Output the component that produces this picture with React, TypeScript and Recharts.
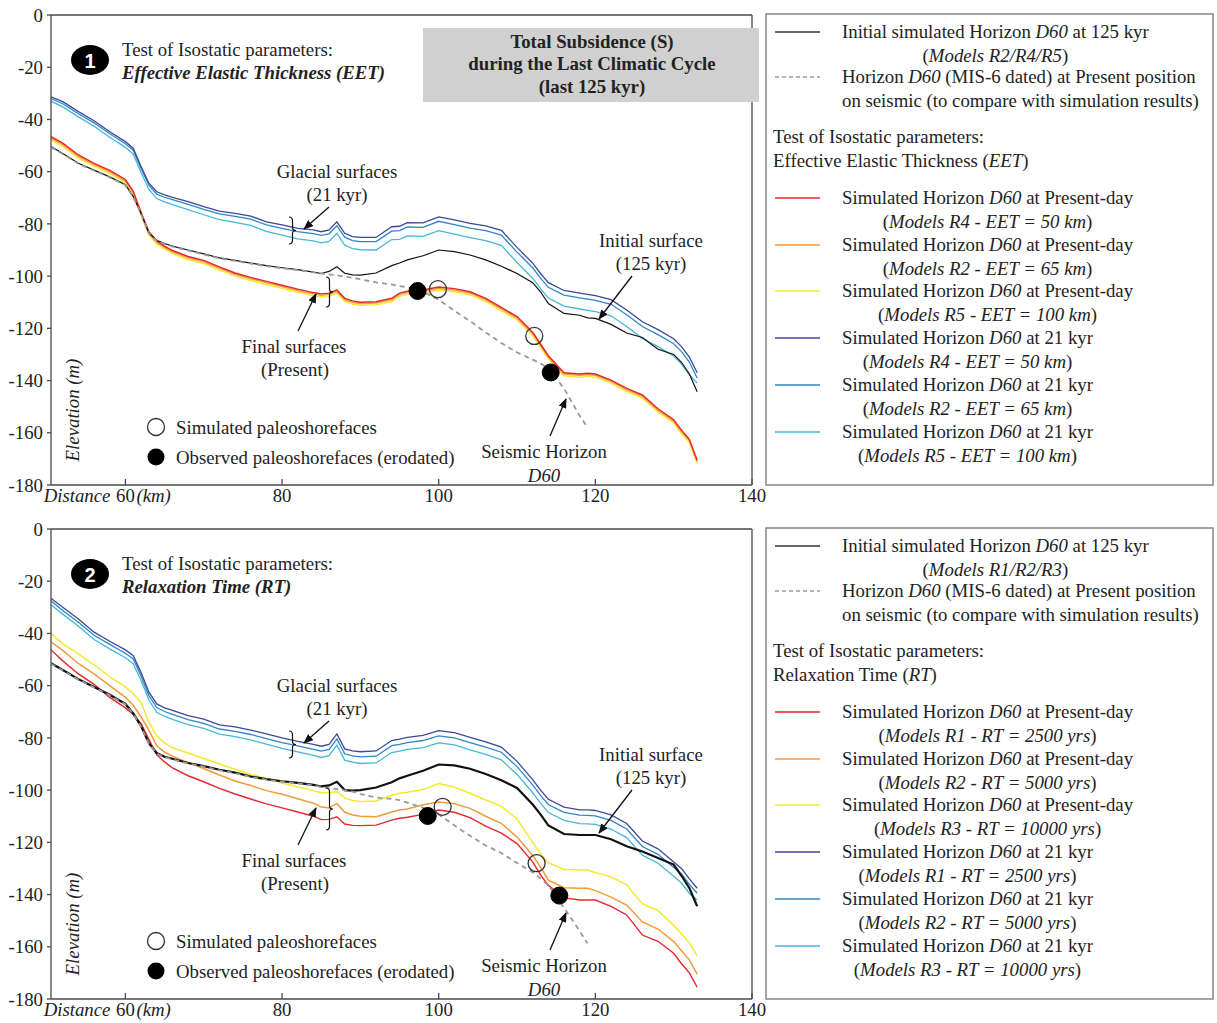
import React from "react";
import { LineChart, Line, XAxis, YAxis } from "recharts";

const SERIF = "'Liberation Serif', 'Times New Roman', Times, serif";
const SANS = "'Liberation Sans', Arial, sans-serif";
const FS = 18.8;

// distance along the profile (km), shared by every curve
const distance = [50.5, 52, 54, 56, 58, 60, 61, 62, 63, 64, 65, 66, 68, 70, 72, 74, 76, 78, 80, 82, 84, 85, 86, 87, 88, 89, 90, 92, 94, 95, 96, 98, 100, 102, 104, 106, 108, 110, 112, 113, 114, 116, 118, 119, 120, 122, 124, 126, 128, 130, 131, 132, 133];
const xTicks = [60, 80, 100, 120, 140];
const yTicks = [0, -20, -40, -60, -80, -100, -120, -140, -160, -180];
const innerYTicks = [-20, -40, -60, -80, -100, -120, -140, -160];

// ---- panel 1 : Effective Elastic Thickness ----
const eetInitial = [-50.4, -53, -56.8, -59.4, -62, -65, -69.5, -76, -83.5, -86.3, -87.5, -88.5, -90, -91.5, -93, -94, -95, -96, -96.8, -97.5, -98.5, -99, -98.2, -96.4, -98.9, -99.5, -99.6, -98.8, -96, -95, -93.8, -92.2, -90, -90.6, -91.9, -93.8, -96.2, -99, -102.5, -106, -110.5, -114.3, -115, -116, -116.2, -118.5, -121.8, -123.5, -128, -130, -133, -137.5, -144.3];
const eetSeismic = [-50.6, -53.2, -57, -59.6, -62.2, -65.2, -69.7, -76.2, -83.7, -86.5, -87.7, -88.7, -90.2, -91.7, -93.2, -94.2, -95.2, -96.2, -97, -97.7, -98.6, -99, -99.3, -99.7, -100.2, -100.6, -101.2, -102.4, -103.2, -103.8, -104.3, -106, -109, -113.3, -117.2, -121.6, -125.6, -129.2, -132, -133.4, -135.5, -143, -153.5, -158, null, null, null, null, null, null, null, null, null];
const eetPresent50 = [-46.6, -49.1, -53.6, -56.8, -59.5, -63, -67.5, -75.5, -83, -86.5, -88.5, -90.2, -92.5, -94, -96.5, -98.8, -100.5, -102, -103.5, -105, -106.3, -106.8, -106.5, -105.3, -108.5, -109.5, -110, -109.8, -108.5, -106.5, -105.8, -105.3, -104.2, -104.8, -106, -108.5, -112, -115.5, -121.5, -126, -130.5, -137, -137.5, -137.2, -137.5, -139.8, -143, -145.5, -150.8, -155, -159, -162.5, -170.5];
const eetPresent65 = [-47.1, -49.6, -54.1, -57.3, -60, -63.5, -68, -76, -83.5, -87, -89, -90.7, -93, -94.5, -97, -99.3, -101, -102.5, -104, -105.5, -106.8, -107.3, -107, -105.8, -109, -110, -110.5, -110.3, -109, -107, -106.3, -105.8, -104.7, -105.3, -106.5, -109, -112.5, -116, -122, -126.5, -131, -137.5, -138, -137.7, -138, -140.3, -143.5, -146, -151.3, -155.5, -159.5, -163, -171];
const eetPresent100 = [-47.8, -50.3, -54.8, -58, -60.7, -64.2, -68.7, -76.7, -84.2, -87.7, -89.7, -91.4, -93.7, -95.2, -97.7, -100, -101.7, -103.2, -104.7, -106.2, -107.5, -108, -107.7, -106.5, -109.7, -110.7, -111.2, -111, -109.7, -107.7, -107, -106.5, -105.4, -106, -107.2, -109.7, -113.2, -116.7, -122.7, -127.2, -131.7, -138.2, -138.7, -138.4, -138.7, -141, -144.2, -146.7, -152, -156.2, -160.2, -163.7, -171.7];
const eetGlacial50 = [-31.3, -33.2, -37, -40.5, -44.7, -48.5, -51, -58, -64.4, -67.7, -68.9, -69.8, -71.5, -73.4, -75.1, -76, -77, -79.2, -80.4, -81.7, -82.3, -83, -82.3, -79.2, -83.6, -84.9, -85.2, -85.2, -81.1, -80.9, -79.5, -79.6, -77.3, -78.5, -79.8, -80.8, -82.5, -89, -95, -99, -102.5, -105.5, -106.5, -107, -107.5, -109, -113, -117.5, -120.5, -124, -127, -131, -137];
const eetGlacial65 = [-32, -34, -37.8, -41.3, -45.5, -49.3, -51.8, -58.8, -65.2, -68.6, -69.8, -70.7, -72.5, -74.4, -76.2, -77.1, -78.2, -80.4, -81.7, -83, -83.7, -84.4, -83.8, -80.7, -85.1, -86.4, -86.8, -86.8, -82.8, -82.6, -81.2, -81.3, -79, -80.3, -81.6, -82.6, -84.3, -90.8, -96.8, -100.8, -104.3, -107.3, -108.3, -108.8, -109.3, -110.8, -114.8, -119.3, -122.4, -125.9, -128.9, -132.9, -139];
const eetGlacial100 = [-33, -35.2, -39, -42.6, -46.8, -50.7, -53.3, -60.3, -66.8, -70.3, -71.6, -72.6, -74.5, -76.5, -78.4, -79.4, -80.6, -82.9, -84.3, -85.7, -86.5, -87.3, -86.7, -83.6, -88.1, -89.5, -89.9, -90, -86, -85.9, -84.6, -84.8, -82.6, -83.9, -85.3, -86.4, -88.2, -94.8, -100.8, -104.8, -108.4, -111.5, -112.6, -113.1, -113.6, -115.2, -119.3, -123.9, -127, -130.6, -133.7, -137.8, -141];
const eetSimX = [99.9, 112.2];
const eetSimY = [-105, -122.9];
const eetObsX = [97.3, 114.3];
const eetObsY = [-105.7, -136.9];

// ---- panel 2 : Relaxation Time ----
const rtInitial = [-51.4, -54, -57.5, -60.5, -63.5, -67, -70.6, -75.5, -82, -85.8, -87.2, -88, -89.6, -90.8, -92.2, -93.3, -94.8, -95.8, -96.6, -97.2, -98, -98.6, -98.2, -96.8, -100, -100.2, -100, -99, -97, -95.5, -94.5, -92.6, -90.2, -90.5, -91.8, -93.8, -96.2, -99.2, -105.5, -109.3, -113.5, -116.8, -117.2, -117.2, -117.2, -118.8, -121.5, -123.5, -126, -128.5, -132.8, -137.5, -144.5];
const rtSeismic = [-51.6, -54.2, -57.7, -60.7, -63.7, -67.2, -70.8, -75.7, -82.2, -86, -87.4, -88.2, -89.8, -91, -92.4, -93.5, -95, -96, -96.8, -97.4, -98.2, -98.8, -99.2, -99.6, -100.1, -100.6, -101.5, -102.8, -103.4, -103.8, -104.8, -106.8, -109.3, -113.5, -117.5, -121.2, -124.1, -127.9, -131.5, -133.8, -136.5, -145, -154, -158.7, null, null, null, null, null, null, null, null, null];
const rtPresent2500 = [-46.3, -50.5, -55.5, -59.5, -64.5, -68.5, -71, -74.5, -80.5, -86.5, -89.2, -91.5, -94.5, -96.8, -99.3, -101.5, -103.4, -105.3, -106.8, -108.4, -110, -111.3, -111.2, -110.2, -113, -113.5, -113.6, -113.4, -111.5, -110.8, -110.4, -109.3, -107.6, -108.5, -110.5, -113.8, -116.5, -120.5, -127.5, -132.5, -136.5, -141.3, -142.1, -142.1, -142.1, -144.5, -147.8, -155.5, -157.9, -162.5, -166.5, -170, -175.5];
const rtPresent5000 = [-43.2, -46.5, -51.5, -55.5, -60, -64.5, -67.5, -72, -77, -83, -85.5, -87, -89.5, -91.7, -94.2, -96.5, -98.2, -100.2, -101.6, -103.3, -105, -106.5, -106.8, -105.1, -108.5, -109.5, -110, -110.2, -108.4, -107.6, -107.2, -105.6, -104.6, -105.2, -107, -110, -112.7, -118, -125, -129.5, -134.5, -137.4, -137.6, -137.6, -138.5, -141, -144, -150.5, -153.2, -158, -161.5, -165, -170.5];
const rtPresent10000 = [-40, -44, -47.8, -52, -56.6, -60.5, -63, -66.5, -74, -79.2, -82, -83.8, -85.8, -87.9, -90, -92, -94, -95.5, -97.3, -98.8, -100.2, -101, -101, -100.6, -103, -104, -104.4, -104.2, -102, -101.2, -100.8, -99.8, -97.5, -98.8, -101.2, -103.8, -106.2, -111, -120, -124.4, -127.8, -130.4, -130.6, -130.6, -131.6, -133.2, -136.3, -143.5, -146.2, -151.8, -155, -158.5, -163.5];
const rtGlacial2500 = [-26.5, -30, -34.5, -39.5, -43, -46.3, -48.5, -55, -62.5, -67, -68.5, -69.5, -71.5, -72.8, -75, -75.8, -77, -78.5, -80, -81.3, -82.5, -83.2, -82.5, -78.5, -84.2, -85, -85.3, -85, -81, -80.5, -79.8, -79, -77.2, -78, -79.8, -81.5, -83.5, -89, -96, -100, -103.5, -106.5, -107.6, -107.6, -107.8, -109.5, -112.8, -119.5, -122.5, -127.5, -130, -134, -137.6];
const rtGlacial5000 = [-27.5, -31.2, -35.7, -40.7, -44.2, -47.6, -49.8, -56.3, -63.8, -68.4, -69.9, -71, -73, -74.4, -76.6, -77.5, -78.7, -80.3, -81.8, -83.1, -84.4, -85.1, -84.4, -80.4, -86.1, -86.9, -87.3, -87, -83, -82.5, -81.8, -81, -79.2, -80, -81.8, -83.5, -85.5, -91, -98, -102, -105.5, -108.5, -109.6, -109.7, -109.9, -111.6, -114.9, -121.6, -124.6, -129.6, -132.1, -136.1, -139.5];
const rtGlacial10000 = [-29, -32.6, -37.2, -42.3, -45.9, -49.3, -51.6, -58, -65.5, -70.2, -71.7, -72.9, -74.9, -76.4, -78.6, -79.5, -80.8, -82.4, -84, -85.4, -86.7, -87.5, -86.8, -82.8, -88.5, -89.3, -89.8, -89.6, -85.6, -85.1, -84.4, -83.7, -81.9, -82.7, -84.6, -86.3, -88.4, -94, -101, -105, -108.6, -111.6, -112.8, -112.9, -113.1, -114.9, -118.2, -124.9, -128, -133, -135.6, -139.6, -142.1];
const rtSimX = [100.5, 112.5];
const rtSimY = [-106.4, -128];
const rtObsX = [98.6, 115.4];
const rtObsY = [-109.9, -140.4];

// legend texts
const eetModels = ["Models R4 - EET = 50 km", "Models R2 - EET = 65 km", "Models R5 - EET = 100 km"];
const rtModels = ["Models R1 - RT = 2500 yrs", "Models R2 - RT = 5000 yrs", "Models R3 - RT = 10000 yrs"];

const C = {
  red: "#e8262c",
  orange: "#f39b38",
  yellow: "#f5e92f",
  navy: "#3d4898",
  blue: "#2f86c6",
  cyan: "#45b8da",
  axis: "#4a4a4a",
  text: "#222",
};

type Pt = { x: number; y: number };

function toRows(cols: Record<string, (number | null)[]>) {
  return distance.map((x, i) => {
    const row: Record<string, number | null> = { x };
    Object.keys(cols).forEach((k) => {
      row[k] = cols[k][i];
    });
    return row;
  });
}

function toPts(xs: number[], ys: number[]): Pt[] {
  return xs.map((x, i) => ({ x, y: ys[i] }));
}

function BottomTick(props: any) {
  const { x, y, payload } = props;
  const base = { fontFamily: SERIF, fontSize: FS, fill: C.text };
  return (
    <g>
      <text x={x} y={y} dy={14} textAnchor="middle" {...base}>
        {payload.value}
      </text>
      {payload.value === 60 && (
        <>
          <text x={x - 15} y={y} dy={14} textAnchor="end" fontStyle="italic" {...base}>
            Distance
          </text>
          <text x={x + 11} y={y} dy={14} textAnchor="start" fontStyle="italic" {...base}>
            (km)
          </text>
        </>
      )}
    </g>
  );
}

function Label({ x, y, children, align = "middle", style }: any) {
  return (
    <div
      style={{
        position: "absolute",
        left: x,
        top: y,
        transform: align === "middle" ? "translate(-50%, -50%)" : "translateY(-50%)",
        whiteSpace: "nowrap",
        fontFamily: SERIF,
        fontSize: FS,
        lineHeight: 1,
        color: C.text,
        ...style,
      }}
    >
      {children}
    </div>
  );
}

function Entry({ y, children, align = "center", left = 842 }: any) {
  return (
    <div
      style={{
        position: "absolute",
        left,
        top: y - 11.65,
        textAlign: align,
        whiteSpace: "nowrap",
        fontFamily: SERIF,
        fontSize: FS,
        lineHeight: "23.3px",
        color: C.text,
      }}
    >
      {children}
    </div>
  );
}

function brace(x: number, y1: number, y2: number) {
  const m = (y1 + y2) / 2;
  const w = 3.5;
  return `M${x},${y1} Q${x + w},${y1} ${x + w},${y1 + 4} L${x + w},${m - 3} Q${x + w},${m} ${x + 2 * w},${m} Q${x + w},${m} ${x + w},${m + 3} L${x + w},${y2 - 4} Q${x + w},${y2} ${x},${y2}`;
}

type PanelProps = {
  top: number;
  id: string;
  badge: string;
  subtitle: string;
  paramName: string;
  paramAbbr: string;
  initialModels: string;
  models: string[];
  rows: Record<string, number | null>[];
  sim: Pt[];
  obs: Pt[];
  blackWidth: number;
  showBox: boolean;
  finalBrace: [number, number];
};

function Panel(p: PanelProps) {
  const legendY = [198, 245, 291, 338, 385, 432];
  const legendColors = [C.red, C.orange, C.yellow, C.navy, C.blue, C.cyan];
  const arrow = `url(#ah-${p.id})`;
  return (
    <div style={{ position: "absolute", left: 0, top: p.top, width: 1217, height: 514 }}>
      <div style={{ position: "absolute", left: 0, top: 0 }}>
        <LineChart width={770} height={514} data={p.rows} margin={{ top: 0, right: 0, bottom: 0, left: 11 }}>
          <XAxis
            dataKey="x"
            type="number"
            domain={[50.5, 140]}
            ticks={xTicks}
            allowDataOverflow
            interval={0}
            height={29}
            tickSize={-6}
            tickMargin={9}
            tick={BottomTick}
            stroke={C.axis}
            strokeWidth={1.3}
          />
          <XAxis
            xAxisId="top"
            orientation="top"
            type="number"
            domain={[50.5, 140]}
            ticks={[60, 80, 100, 120]}
            allowDataOverflow
            interval={0}
            height={15}
            tick={false}
            tickSize={-5}
            stroke={C.axis}
            strokeWidth={1.3}
          />
          <YAxis
            type="number"
            domain={[-180, 0]}
            ticks={yTicks}
            allowDataOverflow
            interval={0}
            width={40}
            tickSize={4}
            tickMargin={4}
            tick={{ fontSize: FS, fill: C.text, fontFamily: SERIF }}
            stroke={C.axis}
            strokeWidth={1.3}
          />
          <YAxis
            yAxisId="right"
            orientation="right"
            type="number"
            domain={[-180, 0]}
            ticks={innerYTicks}
            allowDataOverflow
            interval={0}
            width={18}
            tick={false}
            tickSize={-5}
            stroke={C.axis}
            strokeWidth={1.3}
          />
          <Line dataKey="g3" stroke={C.cyan} strokeWidth={1.3} dot={false} isAnimationActive={false} />
          <Line dataKey="g2" stroke={C.blue} strokeWidth={1.3} dot={false} isAnimationActive={false} />
          <Line dataKey="g1" stroke={C.navy} strokeWidth={1.3} dot={false} isAnimationActive={false} />
          <Line dataKey="p3" stroke={C.yellow} strokeWidth={1.5} dot={false} isAnimationActive={false} />
          <Line dataKey="p2" stroke={C.orange} strokeWidth={1.5} dot={false} isAnimationActive={false} />
          <Line dataKey="p1" stroke={C.red} strokeWidth={1.4} dot={false} isAnimationActive={false} />
          <Line dataKey="init" stroke="#111" strokeWidth={p.blackWidth} dot={false} isAnimationActive={false} />
          <Line
            dataKey="seis"
            stroke="#9a9a9a"
            strokeWidth={1.8}
            strokeDasharray="5 4"
            dot={false}
            isAnimationActive={false}
          />
          <Line
            data={p.obs}
            dataKey="y"
            stroke="none"
            dot={{ r: 8.5, fill: "#000", stroke: "#000", strokeWidth: 1 }}
            isAnimationActive={false}
          />
          <Line
            data={p.sim}
            dataKey="y"
            stroke="none"
            dot={{ r: 8.5, fill: "none", stroke: "#333", strokeWidth: 1.3 }}
            isAnimationActive={false}
          />
        </LineChart>
      </div>

      <svg width={1217} height={514} style={{ position: "absolute", left: 0, top: 0, pointerEvents: "none" }}>
        <defs>
          <marker id={`ah-${p.id}`} markerWidth={10} markerHeight={8} refX={9} refY={4} orient="auto" markerUnits="userSpaceOnUse">
            <path d="M0,0 L10,4 L0,8 z" fill="#111" />
          </marker>
        </defs>
        {p.showBox && <rect x={423} y={28} width={336} height={74} fill="#d0d0d0" />}
        <ellipse cx={90} cy={60} rx={19} ry={15} fill="#000" />
        <text x={90} y={67.5} textAnchor="middle" fill="#fff" fontFamily={SANS} fontWeight="bold" fontSize={20}>
          {p.badge}
        </text>

        <line x1={329} y1={207} x2={304} y2={229} stroke="#111" strokeWidth={1.3} markerEnd={arrow} />
        <line x1={632} y1={276} x2={599} y2={319} stroke="#111" strokeWidth={1.3} markerEnd={arrow} />
        <line x1={298} y1={331} x2={316} y2={294} stroke="#111" strokeWidth={1.3} markerEnd={arrow} />
        <line x1={550} y1={436} x2={566} y2={399} stroke="#111" strokeWidth={1.3} markerEnd={arrow} />
        <path d={brace(289, 217, 244)} fill="none" stroke="#111" strokeWidth={1.2} />
        <path d={brace(326, p.finalBrace[0], p.finalBrace[1])} fill="none" stroke="#111" strokeWidth={1.2} />

        <circle cx={156} cy={427} r={8.5} fill="#fff" stroke="#333" strokeWidth={1.3} />
        <circle cx={156} cy={457} r={8.5} fill="#000" />

        <text
          transform="translate(72,410) rotate(-90)"
          textAnchor="middle"
          dominantBaseline="central"
          fontFamily={SERIF}
          fontSize={FS}
          fontStyle="italic"
          fill={C.text}
        >
          Elevation (m)
        </text>

        <rect x={766} y={14} width={447} height={471} fill="none" stroke="#888" strokeWidth={1.5} />
        <line x1={775} y1={32} x2={820} y2={32} stroke="#333" strokeWidth={1.3} />
        <line x1={775} y1={77} x2={820} y2={77} stroke="#9a9a9a" strokeWidth={1.3} strokeDasharray="4 3" />
        {legendY.map((ly, i) => (
          <line key={ly} x1={775} y1={ly} x2={820} y2={ly} stroke={legendColors[i]} strokeWidth={1.4} />
        ))}
      </svg>

      {p.showBox && (
        <>
          <Label x={592} y={42} style={{ fontWeight: "bold" }}>Total Subsidence (S)</Label>
          <Label x={592} y={64} style={{ fontWeight: "bold" }}>during the Last Climatic Cycle</Label>
          <Label x={592} y={87} style={{ fontWeight: "bold" }}>(last 125 kyr)</Label>
        </>
      )}
      <Label x={122} y={50} align="start">{p.subtitle}</Label>
      <Label x={122} y={73} align="start" style={{ fontWeight: "bold", fontStyle: "italic" }}>
        {`${p.paramName} (${p.paramAbbr})`}
      </Label>

      <Label x={337} y={172}>Glacial surfaces</Label>
      <Label x={337} y={195}>(21 kyr)</Label>
      <Label x={651} y={241}>Initial surface</Label>
      <Label x={651} y={264}>(125 kyr)</Label>
      <Label x={294} y={347}>Final surfaces</Label>
      <Label x={295} y={370}>(Present)</Label>
      <Label x={544} y={452}>Seismic Horizon</Label>
      <Label x={544} y={476} style={{ fontStyle: "italic" }}>D60</Label>
      <Label x={176} y={428} align="start">Simulated paleoshorefaces</Label>
      <Label x={176} y={458} align="start">Observed paleoshorefaces (erodated)</Label>

      <Entry y={32}>
        Initial simulated Horizon <i>D60</i> at 125 kyr
        <br />(<i>{p.initialModels}</i>)
      </Entry>
      <Entry y={77} align="left">
        Horizon <i>D60</i> (MIS-6 dated) at Present position
        <br />on seismic (to compare with simulation results)
      </Entry>
      <Entry y={137} align="left" left={773}>
        {p.subtitle}
        <br />
        {p.paramName} (<i>{p.paramAbbr}</i>)
      </Entry>
      {legendY.map((ly, i) => (
        <Entry key={ly} y={ly}>
          Simulated Horizon <i>D60</i> at {i < 3 ? "Present-day" : "21 kyr"}
          <br />(<i>{p.models[i % 3]}</i>)
        </Entry>
      ))}
    </div>
  );
}

const eetRows = toRows({
  init: eetInitial,
  seis: eetSeismic,
  p1: eetPresent50,
  p2: eetPresent65,
  p3: eetPresent100,
  g1: eetGlacial50,
  g2: eetGlacial65,
  g3: eetGlacial100,
});

const rtRows = toRows({
  init: rtInitial,
  seis: rtSeismic,
  p1: rtPresent2500,
  p2: rtPresent5000,
  p3: rtPresent10000,
  g1: rtGlacial2500,
  g2: rtGlacial5000,
  g3: rtGlacial10000,
});

export default function App() {
  return (
    <div style={{ position: "absolute", left: 0, top: 0, width: 1217, height: 1023, background: "#fff" }}>
      <Panel
        top={0}
        id="eet"
        badge="1"
        subtitle="Test of Isostatic parameters:"
        paramName="Effective Elastic Thickness"
        paramAbbr="EET"
        initialModels="Models R2/R4/R5"
        models={eetModels}
        rows={eetRows}
        sim={toPts(eetSimX, eetSimY)}
        obs={toPts(eetObsX, eetObsY)}
        blackWidth={1.2}
        showBox
        finalBrace={[277, 307]}
      />
      <Panel
        top={514}
        id="rt"
        badge="2"
        subtitle="Test of Isostatic parameters:"
        paramName="Relaxation Time"
        paramAbbr="RT"
        initialModels="Models R1/R2/R3"
        models={rtModels}
        rows={rtRows}
        sim={toPts(rtSimX, rtSimY)}
        obs={toPts(rtObsX, rtObsY)}
        blackWidth={2.2}
        showBox={false}
        finalBrace={[274, 316]}
      />
    </div>
  );
}
